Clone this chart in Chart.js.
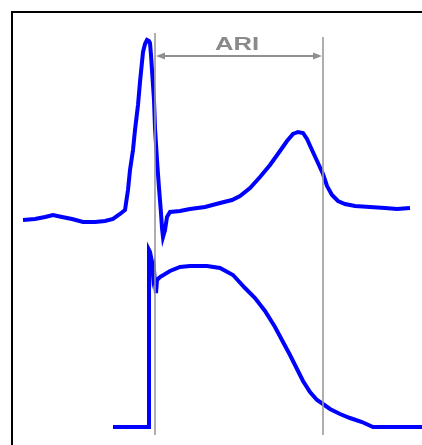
<!DOCTYPE html>
<html>
<head>
<meta charset="utf-8">
<script src="https://cdn.jsdelivr.net/npm/chart.js@4"></script>
<style>
  html, body { margin: 0; padding: 0; background: #fff; }
  #wrap { position: relative; width: 422px; height: 445px; }
  #frame { position: absolute; left: 11px; top: 11px; right: -5px; bottom: -5px;
           border-left: 2.5px solid #000; border-top: 2.5px solid #000; pointer-events: none; }
</style>
</head>
<body>
<div id="wrap">
  <canvas id="chart" width="422" height="445"></canvas>
  <div id="frame"></div>
</div>
<script>
// unipolar electrogram (time, amplitude)
const egmTime = [23, 35, 45, 53, 62, 72, 83, 95, 105, 113, 120, 125, 128, 130, 133, 135, 138, 140, 142, 143,
  145, 147, 149, 150, 151, 152, 154, 155, 157, 159, 161, 162, 163, 165, 167, 170, 180, 190, 205, 220,
  232, 240, 250, 260, 270, 280, 287, 293, 298, 303, 307, 312, 318, 323, 327, 332, 338, 345, 355, 370,
  385, 397, 410];
const egmValue = [225, 226, 228, 230, 228, 226, 223, 223, 224, 226, 231, 235, 255, 275, 295, 315, 340, 363, 383, 393,
  401, 405, 404, 402, 390, 375, 345, 317, 285, 257, 232, 217, 208, 215, 228, 233, 234, 236, 238, 242,
  245, 249, 257, 268, 280, 294, 304, 311, 313, 312, 306, 295, 282, 271, 259, 250, 244, 241, 239, 238,
  237, 236, 237];

// monophasic action potential (time, amplitude)
const apTime = [113, 149, 149, 150, 152, 153, 154, 155, 156, 157, 160, 170, 180, 190, 207, 220, 233, 245, 255, 265,
  275, 283, 290, 297, 303, 310, 317, 323, 330, 340, 350, 362, 373, 422];
const apValue = [18, 18, 195, 193, 183, 170, 175, 162, 152, 165, 168, 174, 178, 179, 179, 177, 170, 157, 147, 134,
  118, 103, 90, 76, 64, 53, 45, 41, 36, 31, 27, 23, 18, 18];

// activation and repolarization markers
const activationTime = 155;
const repolarizationTime = 323;
const markerTop = [412, 408];
const markerBottom = 10;
const arrowLevel = 389;
const ariLabel = 'ARI';

const toPoints = (xs, ys) => xs.map((x, i) => ({ x: x, y: ys[i] }));

const markerPlugin = {
    id: 'markers',
    afterDatasetsDraw(chart) {
        const ctx = chart.ctx;
        const xs = chart.scales.x, ys = chart.scales.y;
        const grey = '#8f8f8f';
        ctx.save();
        ctx.strokeStyle = '#9a9a9a';
        ctx.lineWidth = 1.6;
        [activationTime, repolarizationTime].forEach((t, i) => {
            const px = xs.getPixelForValue(t);
            ctx.beginPath();
            ctx.moveTo(px, ys.getPixelForValue(markerTop[i]));
            ctx.lineTo(px, ys.getPixelForValue(markerBottom));
            ctx.stroke();
        });
        // double-headed arrow
        const x1 = xs.getPixelForValue(activationTime) + 1;
        const x2 = xs.getPixelForValue(repolarizationTime) - 1;
        const ay = ys.getPixelForValue(arrowLevel);
        ctx.strokeStyle = grey;
        ctx.lineWidth = 2;
        ctx.beginPath();
        ctx.moveTo(x1 + 4, ay);
        ctx.lineTo(x2 - 4, ay);
        ctx.stroke();
        ctx.fillStyle = grey;
        ctx.beginPath();
        ctx.moveTo(x1, ay); ctx.lineTo(x1 + 9, ay - 3.5); ctx.lineTo(x1 + 9, ay + 3.5); ctx.closePath();
        ctx.moveTo(x2, ay); ctx.lineTo(x2 - 9, ay - 3.5); ctx.lineTo(x2 - 9, ay + 3.5); ctx.closePath();
        ctx.fill();
        // label
        ctx.fillStyle = '#8a8a8a';
        ctx.font = 'bold 19px "Liberation Sans", Arial, sans-serif';
        ctx.textAlign = 'center';
        ctx.textBaseline = 'alphabetic';
        ctx.translate((x1 + x2) / 2 - 2, ay - 6);
        ctx.scale(1.35, 1);
        ctx.fillText(ariLabel, 0, 0);
        ctx.restore();
    }
};

new Chart(document.getElementById('chart'), {
    type: 'scatter',
    data: {
        datasets: [{
            label: 'Electrogram',
            data: toPoints(egmTime, egmValue),
            showLine: true,
            borderColor: '#0000ff',
            borderWidth: 4,
            pointRadius: 0,
            tension: 0
        }, {
            label: 'Action potential',
            data: toPoints(apTime, apValue),
            showLine: true,
            borderColor: '#0000ff',
            borderWidth: 4,
            pointRadius: 0,
            tension: 0
        }]
    },
    options: {
        responsive: false,
        animation: false,
        layout: { padding: 0 },
        scales: {
            x: { type: 'linear', min: 0, max: 422, display: false },
            y: { type: 'linear', min: 0, max: 445, display: false }
        },
        plugins: {
            legend: { display: false },
            tooltip: { enabled: false }
        }
    },
    plugins: [markerPlugin]
});
</script>
</body>
</html>
